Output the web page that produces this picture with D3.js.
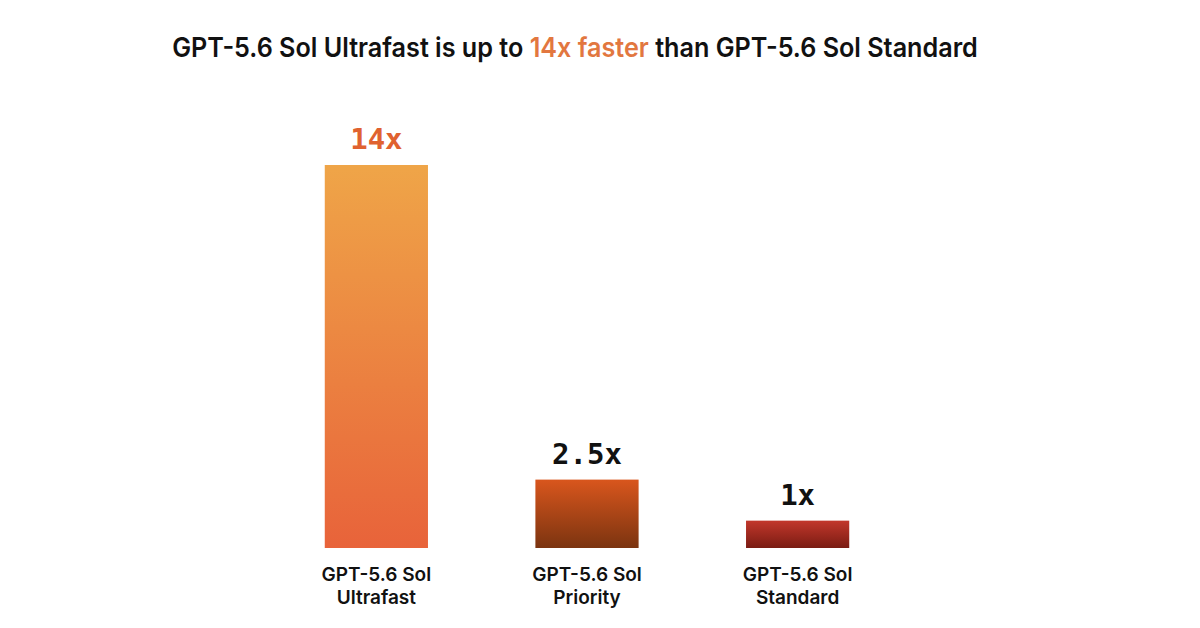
<!DOCTYPE html>
<html>
<head>
<meta charset="utf-8">
<script src="https://cdn.jsdelivr.net/npm/d3@7"></script>
<style>
  html, body { margin: 0; padding: 0; background: #fff; }
</style>
</head>
<body>
<div id="chart"></div>
<script>
// Chart data
const categories = ["Ultrafast", "Priority", "Standard"];
const speedups = [14, 2.5, 1];
const valueLabels = ["14x", "2.5x", "1x"];
const titleParts = ["GPT-5.6 Sol Ultrafast is up to ", "14x faster", " than GPT-5.6 Sol Standard"];

const width = 1200;
const height = 628;
const baseline = 548;

// gradient colours per bar (top, bottom)
const gradients = [
  ["#efa548", "#e8633a"],
  ["#d9561d", "#7b3410"],
  ["#c2372b", "#7a1c13"]
];

const svg = d3.select("#chart")
  .append("svg")
  .attr("width", width)
  .attr("height", height);

const defs = svg.append("defs");
gradients.forEach((g, i) => {
  const lg = defs.append("linearGradient")
    .attr("id", "grad" + i)
    .attr("x1", 0).attr("y1", 0).attr("x2", 0).attr("y2", 1);
  lg.append("stop").attr("offset", "0%").attr("stop-color", g[0]);
  lg.append("stop").attr("offset", "100%").attr("stop-color", g[1]);
});

const x = d3.scaleBand()
  .domain(categories)
  .range([270, 904])
  .paddingInner(0.51)
  .paddingOuter(0.26);

const y = d3.scaleLinear()
  .domain([0, 14])
  .range([baseline, 165]);

// Title
const title = svg.append("text")
  .attr("x", width / 2 - 25)
  .attr("y", 57)
  .attr("text-anchor", "middle")
  .attr("font-family", "Inter, 'Noto Sans', sans-serif")
  .attr("font-weight", 600)
  .attr("font-size", 27)
  .attr("fill", "#111");

title.selectAll("tspan")
  .data(titleParts)
  .join("tspan")
  .attr("fill", (d, i) => i === 1 ? "#e2773f" : "#111")
  .text(d => d);

// squeeze title to the reference width
const tw = title.node().getComputedTextLength();
const targetW = 806;
const cx = width / 2 - 25;
title.attr("transform", `translate(${cx},0) scale(${targetW / tw},1) translate(${-cx},0)`);

// Bars
svg.append("g")
  .selectAll("rect")
  .data(speedups)
  .join("rect")
  .attr("x", (d, i) => x(categories[i]))
  .attr("y", d => y(d))
  .attr("width", x.bandwidth())
  .attr("height", d => baseline - y(d))
  .attr("fill", (d, i) => `url(#grad${i})`);

// Value labels
svg.append("g")
  .selectAll("text")
  .data(speedups)
  .join("text")
  .attr("x", (d, i) => x(categories[i]) + x.bandwidth() / 2)
  .attr("y", d => y(d) - 16)
  .attr("text-anchor", "middle")
  .attr("font-family", "'DejaVu Sans Mono', monospace")
  .attr("font-weight", "bold")
  .attr("font-size", 29)
  .attr("fill", (d, i) => i === 0 ? "#e0622f" : "#111")
  .text((d, i) => valueLabels[i]);

// Category labels
const cat = svg.append("g")
  .selectAll("text")
  .data(categories)
  .join("text")
  .attr("x", d => x(d) + x.bandwidth() / 2)
  .attr("y", 581)
  .attr("text-anchor", "middle")
  .attr("font-family", "Inter, 'Noto Sans', sans-serif")
  .attr("font-weight", 600)
  .attr("font-size", 19)
  .attr("fill", "#111");

cat.append("tspan")
  .attr("x", d => x(d) + x.bandwidth() / 2)
  .text("GPT-5.6 Sol");
cat.append("tspan")
  .attr("x", d => x(d) + x.bandwidth() / 2)
  .attr("dy", 23)
  .text(d => d);
</script>
</body>
</html>
